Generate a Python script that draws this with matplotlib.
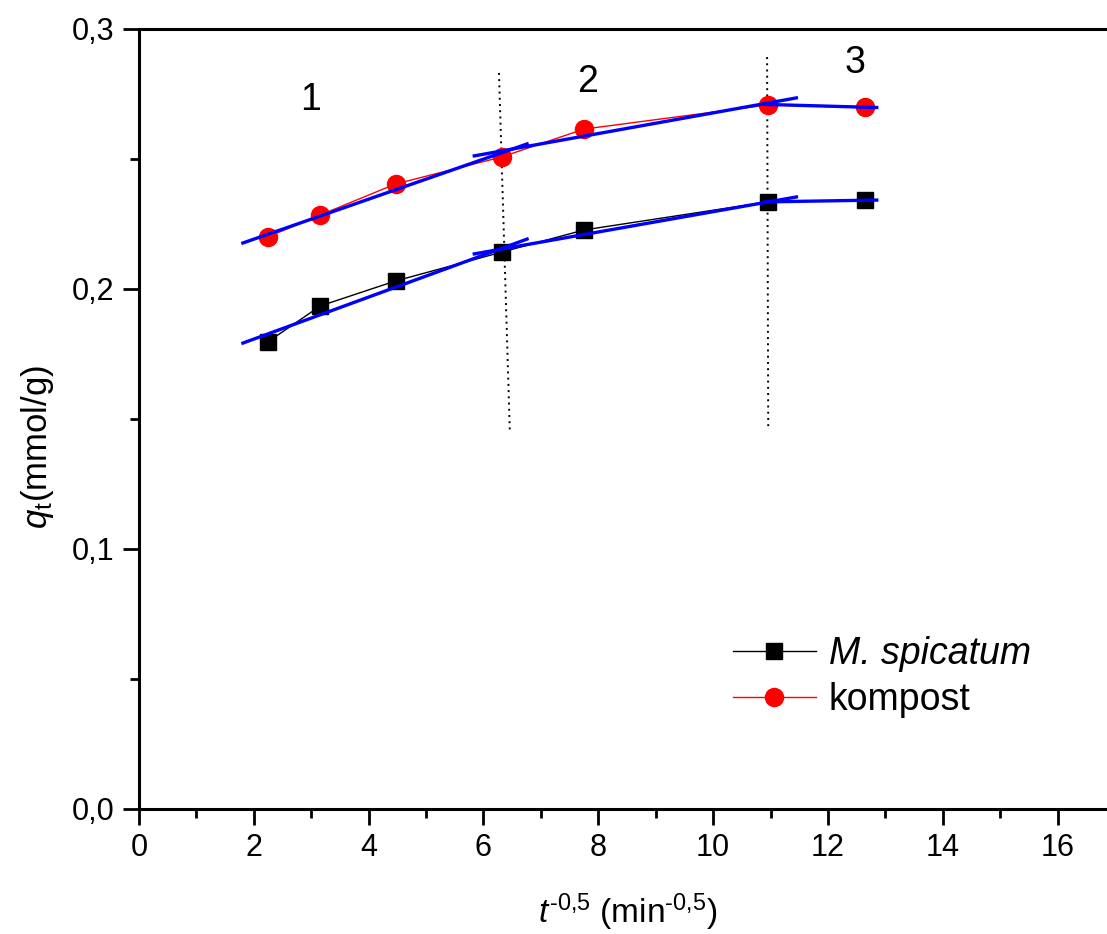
import numpy as np
import matplotlib
matplotlib.use('Agg')
import matplotlib.pyplot as plt
from matplotlib.ticker import MultipleLocator, FuncFormatter

plt.rcParams['font.family'] = ['Liberation Sans', 'DejaVu Sans']
plt.rcParams['mathtext.fontset'] = 'custom'
plt.rcParams['mathtext.rm'] = 'Liberation Sans'
plt.rcParams['mathtext.it'] = 'Liberation Sans:italic'

# dane: t^-0.5 i q_t
x_data = [2.24, 3.16, 4.47, 6.32, 7.75, 10.95, 12.65]
q_spicatum = [0.1796, 0.1935, 0.2031, 0.2142, 0.2227, 0.2335, 0.2342]
q_kompost = [0.2200, 0.2285, 0.2404, 0.2508, 0.2615, 0.2708, 0.2700]

# odcinki dopasowania (x od, x do, y od, y do)
fit_x = [[1.81, 6.76], [5.84, 11.45], [10.90, 12.85]]
fit_spicatum = [[0.1792, 0.2192], [0.2135, 0.2354], [0.2335, 0.2342]]
fit_kompost = [[0.2177, 0.2558], [0.2512, 0.2735], [0.2710, 0.2698]]

# linie podzialu etapow
div_x = [[6.27, 6.46], [10.94, 10.96]]
div_y = [[0.2831, 0.1446], [0.2892, 0.1465]]

stage_labels = ['1', '2', '3']
stage_x = [2.98, 7.82, 12.47]
stage_y = [0.2727, 0.2796, 0.2869]

fig = plt.figure(figsize=(11.07, 9.34), dpi=100)
W, H = 1107, 934
ax = fig.add_axes([139 / W, 1 - 809 / H, (1115 - 139) / W, (809 - 29) / H])

ax.plot(x_data, q_spicatum, color='black', lw=1, marker='s', ms=11,
        mfc='black', mec='black', label='M. spicatum', zorder=3)
ax.plot(x_data, q_kompost, color='red', lw=1, marker='o', ms=13,
        mfc='red', mec='red', label='kompost', zorder=3)

for i in range(len(fit_x)):
    ax.plot(fit_x[i], fit_spicatum[i], color='#0000ff', lw=2.4, zorder=4)
    ax.plot(fit_x[i], fit_kompost[i], color='#0000ff', lw=2.4, zorder=4)

for i in range(len(div_x)):
    ax.plot(div_x[i], div_y[i], color='black', lw=1.4, ls=(0, (1, 2.2)), zorder=2)

for lab, sx, sy in zip(stage_labels, stage_x, stage_y):
    ax.text(sx, sy, lab, fontsize=27, ha='center', va='center')

ax.set_xlim(0, 17)
ax.set_ylim(0, 0.3)
ax.xaxis.set_major_locator(MultipleLocator(2))
ax.xaxis.set_minor_locator(MultipleLocator(1))
ax.yaxis.set_major_locator(MultipleLocator(0.1))
ax.yaxis.set_minor_locator(MultipleLocator(0.05))
ax.yaxis.set_major_formatter(FuncFormatter(lambda v, p: ('%.1f' % v).replace('.', ',')))

for s in ax.spines.values():
    s.set_linewidth(2.2)
ax.tick_params(which='major', direction='out', length=11.5, width=2, pad=6)
ax.tick_params(which='minor', direction='out', length=6.5, width=2)
for lbl in ax.get_xticklabels() + ax.get_yticklabels():
    lbl.set_fontsize(22)

fig.text(628 / W, 1 - 912 / H, r'$\it{t}^{\text{-0,5}}$ (min$^{\text{-0,5}}$)',
         fontsize=24, ha='center', va='center')
fig.text(37 / W, 1 - 447 / H, r'$\it{q}_{\rm t}$(mmol/g)',
         fontsize=25, ha='center', va='center', rotation=90)

leg = ax.legend(loc='upper left', bbox_to_anchor=(733 / W, 1 - 636 / H),
                bbox_transform=fig.transFigure, frameon=False, fontsize=27,
                handlelength=2.2, handletextpad=0.35, labelspacing=0.28,
                borderpad=0, borderaxespad=0)
leg.get_texts()[0].set_fontstyle('italic')

fig.savefig('out.png', dpi=100)
